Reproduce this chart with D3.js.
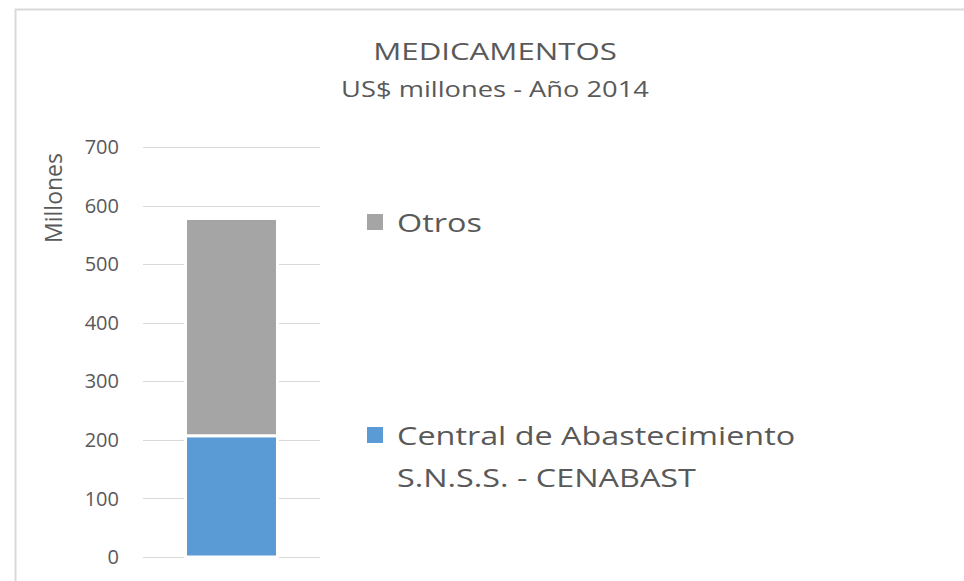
<!DOCTYPE html>
<html>
<head>
<meta charset="utf-8">
<script src="https://cdn.jsdelivr.net/npm/d3@7"></script>
<style>
  html, body { margin: 0; padding: 0; background: #fff; }
  svg { display: block; font-family: "Open Sans", sans-serif; }
</style>
</head>
<body>
<svg id="chart" width="964" height="581"></svg>
<script>
// ---- data ----
const categories = ["2014"];
const seriesNames = ["Central de Abastecimiento S.N.S.S. - CENABAST", "Otros"];
const cenabastValues = [207];
const otrosValues = [371];
const yTicks = [0, 100, 200, 300, 400, 500, 600, 700];
const legendLines = [["Otros"], ["Central de Abastecimiento", "S.N.S.S. - CENABAST"]];
const titleText = "MEDICAMENTOS";
const subtitleText = "US$ millones - Año 2014";
const yAxisTitle = "Millones";

const colors = { "Otros": "#a5a5a5", "Central de Abastecimiento S.N.S.S. - CENABAST": "#5b9bd5" };
const textColor = "#595959";

const svg = d3.select("#chart");

// chart border
svg.append("rect").attr("x", 15.5).attr("y", 9.5).attr("width", 1000).attr("height", 1000)
  .attr("fill", "#fff").attr("stroke", "#d9d9d9").attr("stroke-width", 2);

const x = d3.scaleBand().domain(categories).range([143, 320]).paddingInner(0.331).paddingOuter(0.331);
const y = d3.scaleLinear().domain([0, 700]).range([557, 147]);

// gridlines
svg.append("g").selectAll("line").data(yTicks).join("line")
  .attr("x1", 143).attr("x2", 320)
  .attr("y1", d => Math.round(y(d)) + 0.5).attr("y2", d => Math.round(y(d)) + 0.5)
  .attr("stroke", "#d9d9d9").attr("stroke-width", 1);

// tick labels
svg.append("g").selectAll("text").data(yTicks).join("text")
  .attr("x", 119).attr("y", d => y(d)).attr("dy", "0.36em")
  .attr("text-anchor", "end").attr("fill", textColor).attr("font-size", 20)
  .text(d => d);

// y axis title
svg.append("text")
  .attr("transform", `translate(62, 198) rotate(-90)`)
  .attr("text-anchor", "middle").attr("fill", textColor).attr("font-size", 23)
  .text(yAxisTitle);

// stacked bars
const table = categories.map((c, i) => ({
  cat: c,
  [seriesNames[0]]: cenabastValues[i],
  [seriesNames[1]]: otrosValues[i]
}));
const stacked = d3.stack().keys(seriesNames)(table);
svg.append("g").selectAll("g").data(stacked).join("g")
  .attr("fill", d => colors[d.key])
  .selectAll("rect").data(d => d).join("rect")
  .attr("x", d => x(d.data.cat) - 1.5)
  .attr("width", x.bandwidth() + 3)
  .attr("y", d => y(d[1]))
  .attr("height", d => y(d[0]) - y(d[1]))
  .attr("stroke", "#fff").attr("stroke-width", 3);

// title
svg.append("text").attr("transform", "translate(495,60) scale(1.3,1)").attr("text-anchor", "middle")
  .attr("fill", textColor).attr("font-size", 24).text(titleText);
svg.append("text").attr("transform", "translate(495,97) scale(1.3,1)").attr("text-anchor", "middle")
  .attr("fill", textColor).attr("font-size", 21).text(subtitleText);

// legend
const legendItems = [
  { key: "Otros", lines: legendLines[0], y: 232 },
  { key: seriesNames[0], lines: legendLines[1], y: 445 }
];
const lg = svg.append("g").selectAll("g").data(legendItems).join("g");
lg.append("rect").attr("x", 367).attr("y", d => d.y - 18).attr("width", 16).attr("height", 16)
  .attr("fill", d => colors[d.key]);
lg.append("text").attr("fill", textColor).attr("font-size", 26)
  .attr("transform", d => `translate(397,${d.y}) scale(1.245,1)`)
  .selectAll("tspan").data(d => d.lines.map((l, i) => ({ l, i }))).join("tspan")
  .attr("x", 0).attr("y", t => t.i * 42).text(t => t.l);
</script>
</body>
</html>
